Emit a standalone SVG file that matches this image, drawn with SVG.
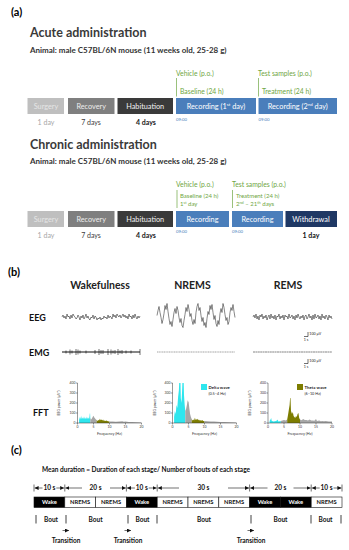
<svg xmlns="http://www.w3.org/2000/svg" width="349" height="550" viewBox="0 0 349 550">
<defs>
<style>
text{font-family:Lato,"Liberation Sans",sans-serif}
.b{font-weight:bold}
.pl{font-size:11px;font-weight:bold;fill:#000}
.ttl{font-size:12.5px;font-weight:bold;fill:#3a3a3a}
.ani{font-size:8px;font-weight:bold;fill:#333}
.bx{font-size:7.3px;text-anchor:middle}
.dur{font-size:7px;text-anchor:middle}
.grn{font-size:6.8px;fill:#6fa643}
.grs{font-size:6px;fill:#6fa643}
.tm{font-size:4.3px;fill:#4a7ebb}
.hd{font-size:10.5px;font-weight:bold;text-anchor:middle;fill:#222}
.rl{font-size:9px;font-weight:bold;fill:#111}
.tk{font-size:3.4px;fill:#333}
.ax{stroke:#333;stroke-width:0.5;fill:none}
.cy{fill:#2ee6ee}
.gy{fill:#a6a6a6}
.ol{fill:#7d7d00}
.sig{fill:none;stroke:#222;stroke-width:0.55}
.sb{font-size:3.6px;fill:#222}
.c6{font-size:6.5px;font-weight:bold;fill:#111}
.cell{font-size:5.8px;font-weight:bold;text-anchor:middle}
.lbl{font-size:6.5px;font-weight:bold;text-anchor:middle;fill:#111}
.dl{stroke:#111;stroke-width:0.6;fill:none}
.gl{stroke:#6fa643;stroke-width:0.7;fill:none}
</style>
<marker id="ah" markerUnits="userSpaceOnUse" markerWidth="4" markerHeight="4" refX="4" refY="2" orient="auto">
<path d="M0,0 L4,2 L0,4 z" fill="#111"/>
</marker>
</defs>
<rect width="349" height="550" fill="#fff"/>

<!-- (a) acute -->
<text class="pl" x="11" y="16">(a)</text>
<text class="ttl" x="30" y="37">Acute administration</text>
<text class="ani" x="30" y="53">Animal: male C57BL/6N mouse (11 weeks old, 25-28 g)</text>

<g id="a-surgery"><rect x="27.5" y="98" width="36.5" height="16" fill="#bfbfbf"/><text class="bx" x="46" y="108.7" fill="#e6e6e6">Surgery</text><text class="dur" x="46" y="124.5" fill="#a6a6a6">1 day</text></g>
<g id="a-recovery"><rect x="68" y="98" width="46.5" height="16" fill="#7f7f7f"/><text class="bx" x="91.2" y="108.7" fill="#eeeeee">Recovery</text><text class="dur" x="91" y="124.5" fill="#404040">7 days</text></g>
<g id="a-habituation"><rect x="117.5" y="98" width="55.5" height="16" fill="#3a3a3a"/><text class="bx" x="145.2" y="108.7" fill="#f2f2f2">Habituation</text><text class="dur b" x="146" y="124.5" fill="#1a1a1a">4 days</text></g>
<g id="a-rec1"><rect x="176" y="98" width="80" height="16" fill="#4a7ebb"/><text class="bx" x="216" y="108.7" fill="#fff">Recording (1<tspan font-size="4.5" dy="-2.5">st</tspan><tspan dy="2.5"> day)</tspan></text><text class="tm" x="176" y="121">09:00</text></g>
<g id="a-rec2"><rect x="258.5" y="98" width="78.5" height="16" fill="#4a7ebb"/><text class="bx" x="297.7" y="108.7" fill="#fff">Recording (2<tspan font-size="4.5" dy="-2.5">nd</tspan><tspan dy="2.5"> day)</tspan></text><text class="tm" x="258.5" y="121">09:00</text></g>
<g id="a-vehicle"><text class="grn" x="176" y="76">Vehicle (p.o.)</text><text class="grn" x="180" y="93.5">Baseline (24 h)</text></g>
<g id="a-test"><text class="grn" x="258" y="76">Test samples (p.o.)</text><text class="grn" x="262" y="93.5">Treatment (24 h)</text></g>

<!-- chronic -->
<text class="ttl" x="30" y="149">Chronic administration</text>
<text class="ani" x="30" y="164">Animal: male C57BL/6N mouse (11 weeks old, 25-28 g)</text>

<g id="c-surgery"><rect x="27.5" y="211" width="36.5" height="16" fill="#bfbfbf"/><text class="bx" x="46" y="221.7" fill="#e6e6e6">Surgery</text><text class="dur" x="46" y="237.5" fill="#a6a6a6">1 day</text></g>
<g id="c-recovery"><rect x="68" y="211" width="46.5" height="16" fill="#7f7f7f"/><text class="bx" x="91.2" y="221.7" fill="#eeeeee">Recovery</text><text class="dur" x="91" y="237.5" fill="#404040">7 days</text></g>
<g id="c-habituation"><rect x="117.5" y="211" width="55.5" height="16" fill="#3a3a3a"/><text class="bx" x="145.2" y="221.7" fill="#f2f2f2">Habituation</text><text class="dur b" x="146" y="237.5" fill="#1a1a1a">4 days</text></g>
<g id="c-rec1"><rect x="176" y="211" width="53" height="16" fill="#4a7ebb"/><text class="bx" x="202.5" y="221.7" fill="#fff">Recording</text><text class="tm" x="176" y="233">09:00</text></g>
<g id="c-rec2"><rect x="232" y="211" width="51" height="16" fill="#4a7ebb"/><text class="bx" x="257.5" y="221.7" fill="#fff">Recording</text><text class="tm" x="232" y="233">09:00</text></g>
<g id="c-withdrawal"><rect x="285.5" y="211" width="51.5" height="16" fill="#1f3864"/><text class="bx" x="311" y="221.7" fill="#fff" font-size="6.8">Withdrawal</text><text class="dur b" x="311" y="238" fill="#111" font-size="7.5">1 day</text></g>
<g id="c-vehicle"><text class="grn" x="176" y="187">Vehicle (p.o.)</text><text class="grs" x="180" y="197.5">Baseline (24 h)</text><text class="grs" x="180" y="205.5">1<tspan font-size="3.8" dy="-2">st</tspan><tspan dy="2"> day</tspan></text></g>
<g id="c-test"><text class="grn" x="232" y="187">Test samples (p.o.)</text><text class="grs" x="236" y="197.5">Treatment (24 h)</text><text class="grs" x="236" y="205.5">2<tspan font-size="3.8" dy="-2">nd</tspan><tspan dy="2"> – 21</tspan><tspan font-size="3.8" dy="-2">th</tspan><tspan dy="2"> days</tspan></text></g>

<!-- (b) -->
<text class="pl" x="8" y="276">(b)</text>
<text class="hd" x="100" y="289">Wakefulness</text>
<text class="hd" x="192.5" y="289">NREMS</text>
<text class="hd" x="288" y="289">REMS</text>
<text class="rl" x="29" y="321">EEG</text>
<text class="rl" x="29" y="355.5">EMG</text>
<text class="rl" x="33" y="416">FFT</text>

<g id="eeg-wake"><polyline class="sig" points="62,317 63,315 64,318 65,316 66,319 67,314 68,317 69,316 70,319 71,315 72,318 73,314 74,316 75,317 76,319 77,318 78,315 79,317 80,320 81,316 82,318 83,315 84,319 85,317 86,314 87,318 88,316 89,319 90,320 91,317 92,318 93,315 94,319 95,316 96,317 97,320 98,318 99,319 100,317 101,320 102,318 103,319 104,316 105,318 106,317 107,319 108,315 109,318 110,316 111,317 112,319 113,314 114,317 115,315 116,318 117,314 118,316 119,317 120,315 121,318 122,316 123,314 124,317 125,315 126,318 127,316 128,319 129,314 130,317 131,316 132,319 133,315 134,318 135,314 136,317 137,319 138,316 139,318 140,316"/></g>
<g id="eeg-nrems"><polyline class="sig" points="157,315.5 158,310.5 159,306.5 160,312.5 161,317.5 162,323.5 163,319.5 164,313.5 165,305.5 166,309.5 167,303.5 168,311.5 169,318.5 170,324.5 171,321.5 172,326.5 173,319.5 174,312.5 175,308.5 176,313.5 177,306.5 178,310.5 179,317.5 180,322.5 181,318.5 182,325.5 183,327.5 184,320.5 185,314.5 186,307.5 187,311.5 188,304.5 189,309.5 190,316.5 191,313.5 192,320.5 193,324.5 194,319.5 195,323.5 196,312.5 197,306.5 198,303.5 199,310.5 200,307.5 201,315.5 202,321.5 203,317.5 204,325.5 205,322.5 206,327.5 207,318.5 208,311.5 209,314.5 210,305.5 211,309.5 212,304.5 213,312.5 214,319.5 215,315.5 216,323.5 217,326.5 218,320.5 219,324.5 220,313.5 221,308.5 222,312.5 223,303.5 224,307.5 225,314.5 226,320.5 227,317.5 228,324.5 229,321.5 230,312.5 231,307.5 232,310.5 233,304.5 234,311.5 235,317.5"/></g>
<g id="eeg-rems"><polyline class="sig" points="253,317 254,315 255,318 256,314 257,319 258,316 259,320 260,315 261,317 262,314 263,319 264,316 265,318 266,315 267,320 268,317 269,315 270,319 271,314 272,318 273,316 274,319 275,315 276,320 277,316 278,317 279,314 280,319 281,316 282,318 283,315 284,320 285,315 286,317 287,316 288,319 289,314 290,318 291,317 292,315 293,319 294,316 295,320 296,315 297,318 298,314 299,317 300,319 301,316 302,318 303,315 304,320 305,316 306,315 307,319 308,317 309,314 310,318 311,316 312,320 313,315 314,319 315,314 316,318 317,317 318,315 319,319 320,316 321,320 322,314 323,318 324,316 325,319 326,315 327,317 328,320 329,315 330,318 331,316 332,319"/></g>
<g id="scale-eeg"><path d="M304,336.5 H308 V332" class="dl"/><text class="sb" x="309.3" y="334.8">100 µV</text><text class="sb" x="306" y="341.3" text-anchor="middle">1 s</text></g>

<g id="emg-wake"><path d="M62,352 H140" stroke="#111" stroke-width="1.1"/><path d="M66,350.5 V353.5 M70,349.5 V354.5 M72,350.5 V353.5 M76,349 V355 M78,349.5 V354.5 M80,350.5 V353.5 M86,350.5 V353.5 M95,350 V354 M99,349 V355 M101,350 V354 M103,350 V354 M108,349 V355 M111,349.5 V354.5 M113,350.5 V353.5 M115,350 V354 M118,349 V355 M120,350.5 V353.5 M122,350 V354 M126,350.5 V353.5 M131,350.5 V353.5 M140,349 V355" stroke="#111" stroke-width="0.6"/></g>
<g id="emg-nrems"><path d="M157,352 H235" stroke="#666" stroke-width="0.6" stroke-dasharray="1.2 0.5"/></g>
<g id="emg-rems"><path d="M253,352 H332" stroke="#333" stroke-width="0.6" stroke-dasharray="2 0.4"/></g>
<g id="scale-emg"><path d="M304,363.5 H308 V359" class="dl"/><text class="sb" x="309.3" y="362">100 µV</text><text class="sb" x="306" y="368.3" text-anchor="middle">1 s</text></g>

<!-- FFT plot 1 -->
<g id="fft-wake">
<polygon class="cy" points="79.1,423 79.1,420 79.9,417 80.3,419.5 80.7,416.5 81.1,419 81.5,415.5 81.9,419 82.3,417.5 82.7,419 83.1,416.5 83.5,419 83.9,418 84.3,419 84.7,416.5 85.1,419 85.5,417.5 85.9,419 86.3,416.5 86.7,419 87.1,418 87.5,419 87.9,417 88.3,419 88.7,417.5 89.1,419 89.5,416.5 89.8,413.5 90.1,413.5 90.3,418 90.3,423"/>
<polygon class="gy" points="90.3,423 90.3,418 91.1,419.5 91.9,418.5 92.7,417 93.5,415.8 94.3,417.5 95.1,418.5 95.9,419.5 96.7,420 96.7,423"/>
<polygon class="ol" points="96.7,423 96.7,420 97.5,421 98.3,420 99.1,420.5 99.9,418.8 100.7,420.2 101.5,419.6 102.3,420.5 103.1,419.4 103.9,421 104.7,420.4 105.5,421 106.3,420.5 107.9,421.3 109.5,421.5 109.5,423"/>
<polygon class="gy" points="109.5,423 109.5,421.5 112.7,421.6 115.9,421.8 119.1,421.5 122.3,421.3 123.9,421.8 125.5,421.6 128.7,422 131.9,422.1 136.7,422.3 141.5,422.5 141.5,423"/>
<path class="ax" d="M77.5,383 V423 H141.5 M76,383 H77.5 M76,393 H77.5 M76,403 H77.5 M76,413 H77.5 M76,423 H77.5 M77.5,423 V424.5 M93.5,423 V424.5 M109.5,423 V424.5 M125.5,423 V424.5 M141.5,423 V424.5"/>
<g class="tk" text-anchor="end"><text x="75.5" y="384.2">400</text><text x="75.5" y="394.2">300</text><text x="75.5" y="404.2">200</text><text x="75.5" y="414.2">100</text><text x="75.5" y="424.2">0</text></g>
<g class="tk" text-anchor="middle"><text x="77.5" y="428">0</text><text x="93.5" y="428">5</text><text x="109.5" y="428">10</text><text x="125.5" y="428">15</text><text x="141.5" y="428">20</text><text x="109.5" y="434.5" font-size="3.8">Frequency (Hz)</text></g>
<text class="tk" font-size="3.8" text-anchor="middle" transform="translate(60,403) rotate(-90)">EEG power (µV²)</text>
</g>

<!-- FFT plot 2 -->
<g id="fft-nrems">
<polygon class="cy" points="174.1,423 174.1,417 174.9,411 175.7,414 176.5,405 177.3,408 178.1,397 178.9,390 179.2,383 180.5,383 180.8,398 181.5,403 182.1,391 182.4,383 183.7,383 184.0,395 184.7,405 185.3,411 185.3,423"/>
<polygon class="gy" points="185.3,423 185.3,411 186.1,409 186.9,405 187.7,400 188.1,402 188.5,401 189.3,408 190.1,414 190.9,417 191.7,419 191.7,423"/>
<polygon class="ol" points="191.7,423 191.7,419 192.5,420.5 193.3,419.5 194.1,420.5 194.9,417.8 195.7,420 196.5,419.5 197.3,418.8 198.1,420.3 198.9,419.4 199.7,420.6 200.5,420.2 201.3,420.8 202.1,420 203.3,421 204.5,421 204.5,423"/>
<polygon class="gy" points="204.5,423 204.5,421 207.7,421.3 210.9,421.5 214.1,421.6 217.3,421.8 220.5,421.9 223.7,422 230.1,422.2 236.5,422.4 236.5,423"/>
<path class="ax" d="M172.5,383 V423 H236.5 M171,383 H172.5 M171,393 H172.5 M171,403 H172.5 M171,413 H172.5 M171,423 H172.5 M172.5,423 V424.5 M188.5,423 V424.5 M204.5,423 V424.5 M220.5,423 V424.5 M236.5,423 V424.5"/>
<g class="tk" text-anchor="end"><text x="170.5" y="384.2">400</text><text x="170.5" y="394.2">300</text><text x="170.5" y="404.2">200</text><text x="170.5" y="414.2">100</text><text x="170.5" y="424.2">0</text></g>
<g class="tk" text-anchor="middle"><text x="172.5" y="428">0</text><text x="188.5" y="428">5</text><text x="204.5" y="428">10</text><text x="220.5" y="428">15</text><text x="236.5" y="428">20</text><text x="204.5" y="434.5" font-size="3.8">Frequency (Hz)</text></g>
<text class="tk" font-size="3.8" text-anchor="middle" transform="translate(155.5,403) rotate(-90)">EEG power (µV²)</text>
<rect class="cy" x="201" y="384" width="6" height="6"/>
<text class="b" x="208.5" y="388.8" font-size="4.3" fill="#222">Delta wave</text>
<text x="208.5" y="394.5" font-size="3.8" fill="#222">(0.5–4 Hz)</text>
</g>

<!-- FFT plot 3 -->
<g id="fft-rems">
<polygon class="cy" points="269.6,423 269.6,421 270.4,419.8 271.2,418 271.6,420.6 272,421 273.6,421.5 276,421 277.2,420.2 277.6,419.5 278.4,421.5 280.8,421 280.8,423"/>
<polygon class="gy" points="280.8,423 280.8,421 282.4,420.6 284,420 285.6,420.4 287.2,419.5 287.2,423"/>
<polygon class="ol" points="287.2,423 287.2,419.5 288,415 288.8,410 289.6,405 290.1,398 290.5,398 291,411 292,414 292.8,412 293.6,416 294.4,417 295.2,418 296,416 296.8,417 297.6,414 298.4,413 299.2,418 300,419.5 300,423"/>
<polygon class="gy" points="300,423 300,419.5 301.6,420.2 303.2,419 304.8,420 306.4,420 308,420.4 309.6,419.5 311.2,420.6 312.8,420.5 314.4,420.8 316,419 317,421 319.2,420.5 320.8,421.2 322.4,421 324,421.3 325.6,421 328.8,421.4 332,421.5 332,423"/>
<path class="ax" d="M268,383 V423 H332 M266.5,383 H268 M266.5,393 H268 M266.5,403 H268 M266.5,413 H268 M266.5,423 H268 M268,423 V424.5 M284,423 V424.5 M300,423 V424.5 M316,423 V424.5 M332,423 V424.5"/>
<g class="tk" text-anchor="end"><text x="266" y="384.2">400</text><text x="266" y="394.2">300</text><text x="266" y="404.2">200</text><text x="266" y="414.2">100</text><text x="266" y="424.2">0</text></g>
<g class="tk" text-anchor="middle"><text x="268" y="428">0</text><text x="284" y="428">5</text><text x="300" y="428">10</text><text x="316" y="428">15</text><text x="332" y="428">20</text><text x="300" y="434.5" font-size="3.8">Frequency (Hz)</text></g>
<text class="tk" font-size="3.8" text-anchor="middle" transform="translate(251,403) rotate(-90)">EEG power (µV²)</text>
<rect class="ol" x="297" y="384" width="6" height="6"/>
<text class="b" x="304.5" y="388.8" font-size="4.3" fill="#222">Theta wave</text>
<text x="304.5" y="394.5" font-size="3.8" fill="#222">(6–10 Hz)</text>
</g>

<!-- (c) -->
<text class="pl" x="11" y="454">(c)</text>
<text class="c6" x="42" y="471.5">Mean duration = Duration of each stage/ Number of bouts of each stage</text>

<g id="dur-labels" class="lbl">
<text x="49.4" y="490.2">10 s</text><text x="95.6" y="490.2">20 s</text><text x="141.8" y="490.2">10 s</text><text x="203.4" y="490.2">30 s</text><text x="280.4" y="490.2">20 s</text><text x="326.6" y="490.2">10 s</text>
</g>

<g id="cells" stroke="#111" stroke-width="0.6">
<g id="cell1"><rect x="34" y="497" width="30.8" height="10.5" fill="#000"/><text class="cell" x="49.4" y="504.4" fill="#fff" stroke="none">Wake</text></g>
<g id="cell2"><rect x="64.8" y="497" width="30.8" height="10.5" fill="#fff"/><text class="cell" x="80.2" y="504.4" fill="#111" stroke="none">NREMS</text></g>
<g id="cell3"><rect x="95.6" y="497" width="30.8" height="10.5" fill="#fff"/><text class="cell" x="111" y="504.4" fill="#111" stroke="none">NREMS</text></g>
<g id="cell4"><rect x="126.4" y="497" width="30.8" height="10.5" fill="#000"/><text class="cell" x="141.8" y="504.4" fill="#fff" stroke="none">Wake</text></g>
<g id="cell5"><rect x="157.2" y="497" width="30.8" height="10.5" fill="#fff"/><text class="cell" x="172.6" y="504.4" fill="#111" stroke="none">NREMS</text></g>
<g id="cell6"><rect x="188" y="497" width="30.8" height="10.5" fill="#fff"/><text class="cell" x="203.4" y="504.4" fill="#111" stroke="none">NREMS</text></g>
<g id="cell7"><rect x="218.8" y="497" width="30.8" height="10.5" fill="#fff"/><text class="cell" x="234.2" y="504.4" fill="#111" stroke="none">NREMS</text></g>
<g id="cell8"><rect x="249.6" y="497" width="30.8" height="10.5" fill="#000"/><text class="cell" x="265" y="504.4" fill="#fff" stroke="none">Wake</text></g>
<g id="cell9"><rect x="280.4" y="497" width="30.8" height="10.5" fill="#000"/><text class="cell" x="295.8" y="504.4" fill="#fff" stroke="none">Wake</text></g>
<g id="cell10"><rect x="311.2" y="497" width="30.8" height="10.5" fill="#fff"/><text class="cell" x="326.6" y="504.4" fill="#111" stroke="none">NREMS</text></g>
</g>

<g id="bouts" class="lbl">
<text x="51" y="521.5">Bout</text><text x="95.6" y="521.5">Bout</text><text x="142.5" y="521.5">Bout</text><text x="204" y="521.5">Bout</text><text x="280.5" y="521.5">Bout</text><text x="325.5" y="521.5">Bout</text>
<text x="66" y="542.5">Transition</text><text x="128" y="542.5">Transition</text><text x="251" y="542.5">Transition</text>
</g>

<g id="connectors">
<path class="gl" d="M176.5,78 V96.5 M258.5,78 V96.5 M177,190 V208 M232.5,190 V208"/>
<path class="dl" d="M34,484.5 V491.5 M64.8,484.5 V491.5 M126.4,484.5 V491.5 M157.2,484.5 V491.5 M249.6,484.5 V491.5 M311.2,484.5 V491.5 M342,484.5 V491.5"/>
<g class="dl" marker-end="url(#ah)">
<path d="M42.5,488 H34.6"/><path d="M56.3,488 H64.2"/>
<path d="M82,488 H65.4"/><path d="M110,488 H125.8"/>
<path d="M134.9,488 H127"/><path d="M148.7,488 H156.6"/>
<path d="M179,488 H157.8"/><path d="M228,488 H249"/>
<path d="M267.5,488 H250.2"/><path d="M293.5,488 H310.6"/>
<path d="M319.7,488 H311.8"/><path d="M333.5,488 H341.4"/>
<path d="M62.5,530.5 H69"/><path d="M124.5,530.5 H131"/><path d="M247.5,530.5 H254"/>
</g>
<path d="M36,515 V523.5 M66,515 V523.5 M128,515 V523.5 M157,515 V523.5 M251,515 V523.5 M311,515 V523.5 M341,515 V523.5" stroke="#111" stroke-width="0.8"/>
</g>
</svg>
